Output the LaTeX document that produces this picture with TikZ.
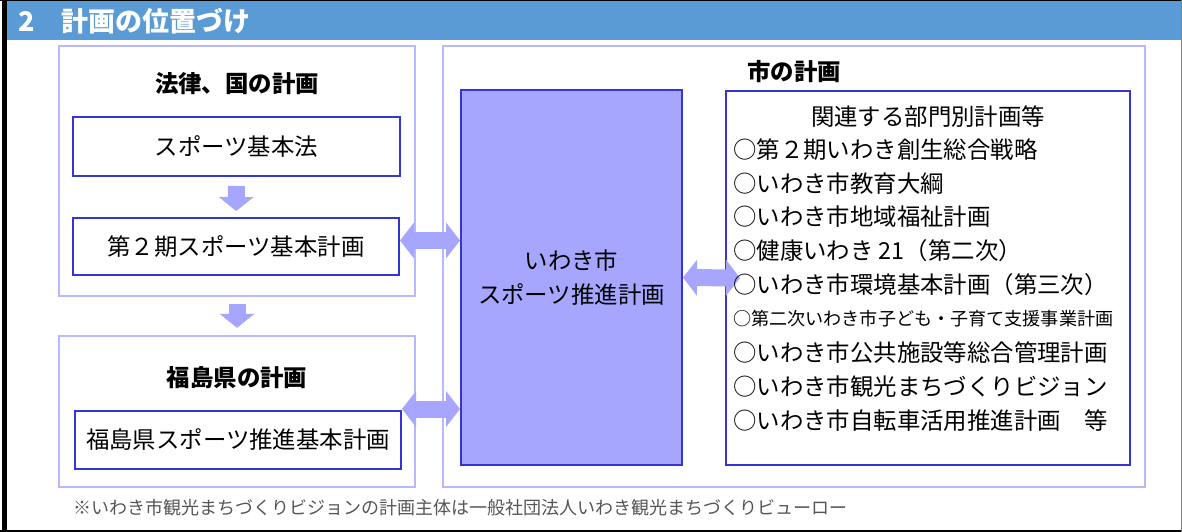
\documentclass[tikz,border=0pt]{standalone}
\usepackage{fontspec}
\setmainfont{Noto Sans CJK JP}
\usetikzlibrary{arrows.meta}
\definecolor{barblue}{HTML}{5B9BD5}
\definecolor{panelline}{HTML}{B8B8FF}
\definecolor{boxline}{HTML}{3535D5}
\definecolor{planfill}{HTML}{A6A6FF}
\definecolor{notegray}{HTML}{555555}
\newcommand{\bodysize}{\fontsize{23.4}{28}\selectfont}
\newcommand{\smallitem}{\fontsize{18.1}{21}\selectfont}
\newcommand{\notesize}{\fontsize{18}{22}\selectfont}

\begin{document}
\begin{tikzpicture}[x=1pt, y=-1pt,
    panel/.style={draw=panelline, line width=2.5pt, inner sep=0pt},
    planbox/.style={draw=boxline, line width=2pt, fill=white, inner sep=0pt, font=\bodysize},
    heading/.style={inner sep=0pt, font=\bodysize\bfseries},
    listitem/.style={anchor=west, inner sep=0pt, font=\bodysize},
    dblarrow/.style={draw=planfill, line width=17pt,
        {Triangle[length=14pt,width=36pt,line width=0pt]}-{Triangle[length=14pt,width=36pt,line width=0pt]}},
    downarrow/.style={draw=planfill, line width=17pt, -{Triangle[length=14pt,width=35pt,line width=0pt]}}]

        \useasboundingbox (0,0) rectangle (1182,532);
        \fill[barblue] (4,1) rectangle (1181,40);
        \draw[line width=1pt] (0,0.5) to (1182,0.5);
        \draw[line width=2pt] (0,530.5) to (1182,530.5);
        \draw[line width=5pt] (4,0) to (4,532);
        \draw[line width=1pt, gray] (1181.5,0) to (1181.5,532);
        \node[anchor=west, inner sep=0pt, text=white, font=\fontsize{27}{30}\selectfont\bfseries] (title) at (18,21) {2　計画の位置づけ};

        \node[panel, minimum width=356, minimum height=250] (nation) at (237,171) {};
        \node[panel, minimum width=356, minimum height=151] (pref) at (237,411.5) {};
        \node[panel, minimum width=702, minimum height=441] (city) at (794,266.5) {};

        \node[heading] (nationtitle) at (237,84) {法律、国の計画};
        \node[heading] (preftitle) at (237,378) {福島県の計画};
        \node[heading] (citytitle) at (794,72) {市の計画};

        \node[planbox, minimum width=327, minimum height=59] (basiclaw) at (236.5,146.5) {スポーツ基本法};
        \node[planbox, minimum width=326, minimum height=57] (basicplan) at (236,246.5) {第２期スポーツ基本計画};
        \node[planbox, minimum width=326, minimum height=58] (prefplan) at (238,440) {福島県スポーツ推進基本計画};
        \node[planbox, fill=planfill, minimum width=221, minimum height=375, align=center,
            font=\fontsize{23.4}{34}\selectfont] (iwaki) at (571.5,277.5) {いわき市\\スポーツ推進計画};
        \node[planbox, minimum width=404, minimum height=374] (related) at (928,278) {};

        \draw[downarrow, shorten <=9pt, shorten >=6pt] (basiclaw) to (basicplan);
        \draw[downarrow, shorten <=7pt, shorten >=7pt] (nation) to (pref);
        \draw[dblarrow] ([yshift=6pt]basicplan.east) to ([yshift=6pt]basicplan.east -| iwaki.west);
        \draw[dblarrow] ([yshift=1pt]prefplan.north east) to ([yshift=1pt]prefplan.north east -| iwaki.west);
        \draw[dblarrow] (iwaki.east) to ([xshift=15pt]related.west);

        \node[inner sep=0pt, font=\bodysize] (relatedtitle) at (928,117) {関連する部門別計画等};
        \node[listitem] (item1) at (733,150) {○第２期いわき創生総合戦略};
        \node[listitem] (item2) at (733,184) {○いわき市教育大綱};
        \node[listitem] (item3) at (733,217) {○いわき市地域福祉計画};
        \node[listitem] (item4) at (733,251) {○健康いわき 21（第二次）};
        \node[listitem] (item5) at (733,285) {○いわき市環境基本計画（第三次）};
        \node[listitem, font=\smallitem] (item6) at (733,319) {○第二次いわき市子ども・子育て支援事業計画};
        \node[listitem] (item7) at (733,353) {○いわき市公共施設等総合管理計画};
        \node[listitem] (item8) at (733,387) {○いわき市観光まちづくりビジョン};
        \node[listitem] (item9) at (733,421) {○いわき市自転車活用推進計画　等};

        \node[anchor=west, inner sep=0pt, text=notegray, font=\notesize] (note) at (73,508) {※いわき市観光まちづくりビジョンの計画主体は一般社団法人いわき観光まちづくりビューロー};
    \end{tikzpicture}
\end{document}
